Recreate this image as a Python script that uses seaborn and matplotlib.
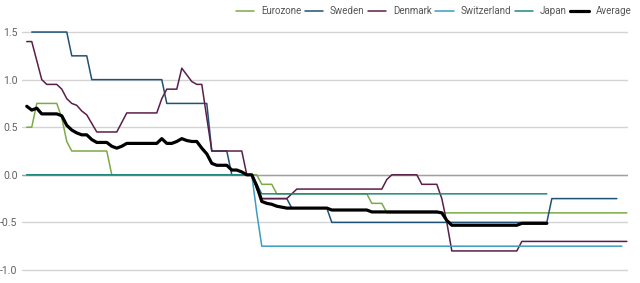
import numpy as np
import pandas as pd
import matplotlib
matplotlib.use('Agg')
import matplotlib.pyplot as plt
import seaborn as sns

# monthly index, 121 points
months = list(range(121))
nan = np.nan

eurozone = ([0.5] * 2 + [0.75] * 5 + [0.6, 0.35] + [0.25] * 8 + [0.0] * 30
            + [-0.1] * 3 + [-0.2] * 19 + [-0.3] * 3 + [-0.4] * 49)

sweden = ([nan] + [1.5] * 8 + [1.25] * 4 + [1.0] * 15 + [0.75] * 9 + [0.25] * 4
          + [0.0] * 5 + [-0.1] + [-0.25] * 6 + [-0.35] * 8 + [-0.5] * 44
          + [-0.25] * 14 + [nan] * 2)

denmark = ([1.4] * 2 + [1.2, 1.0] + [0.95] * 3 + [0.9, 0.8, 0.75, 0.73, 0.67, 0.63, 0.54]
           + [0.45] * 5 + [0.55] + [0.65] * 7 + [0.8] + [0.9] * 3 + [1.12, 1.05, 0.98]
           + [0.95] * 2 + [0.6] + [0.25] * 7 + [0.0] * 2 + [-0.15] + [-0.25] * 6
           + [-0.2] + [-0.15] * 18 + [-0.05] + [0.0] * 6 + [-0.1] * 4 + [-0.25, -0.5]
           + [-0.8] * 14 + [-0.7] * 22)

switzerland = [0.0] * 46 + [-0.4] + [-0.75] * 73 + [nan]

japan = [0.0] * 46 + [-0.1] + [-0.2] * 58 + [nan] * 16

average = ([0.72, 0.68, 0.70, 0.64, 0.64, 0.64, 0.64, 0.62, 0.52, 0.47, 0.44, 0.42,
            0.42, 0.37, 0.34, 0.34, 0.34, 0.30, 0.28, 0.30, 0.33] + [0.33] * 6
           + [0.38, 0.33, 0.33, 0.35, 0.38, 0.36, 0.35, 0.35, 0.28, 0.22, 0.12, 0.10,
              0.10, 0.10, 0.05, 0.05, 0.03, 0.0, 0.0, -0.12, -0.28, -0.30, -0.31,
              -0.33, -0.34]
           + [-0.35] * 9 + [-0.37] * 8 + [-0.39] * 14 + [-0.40, -0.48]
           + [-0.53] * 14 + [-0.51] * 6 + [nan] * 16)

series = {
    'Eurozone': eurozone,
    'Sweden': sweden,
    'Denmark': denmark,
    'Switzerland': switzerland,
    'Japan': japan,
    'Average': average,
}
colors = {
    'Eurozone': '#7bab45',
    'Sweden': '#1f5275',
    'Denmark': '#5a1e4a',
    'Switzerland': '#3a9ec0',
    'Japan': '#1e8a82',
    'Average': '#000000',
}

sns.set_style('white')
plt.rcParams['font.family'] = ['Roboto', 'DejaVu Sans']

fig = plt.figure(figsize=(6.4, 2.83), dpi=100)
ax = fig.add_axes([0.034, 0.0124, 0.947, 0.908])

for name, vals in series.items():
    df = pd.DataFrame({'month': months, 'value': vals}).dropna()
    lw = 2.3 if name == 'Average' else 1.1
    sns.lineplot(data=df, x='month', y='value', ax=ax, color=colors[name],
                 linewidth=lw, label=name, zorder=3 if name == 'Average' else 2)

ax.set_xlim(-1, 120.2)
ax.set_ylim(-1.1, 1.6)
ax.set_yticks([-1.0, -0.5, 0.0, 0.5, 1.0, 1.5])
ax.set_yticklabels(['-1.0', '-0.5', '0.0', '0.5', '1.0', '1.5'])
ax.set_xticks([])
ax.set_xlabel('')
ax.set_ylabel('')
ax.tick_params(axis='y', length=0, pad=3, labelsize=7.5, labelcolor='#606060')
ax.grid(axis='y', color='#d3d3d3', linewidth=1.0)
ax.grid(axis='x', visible=False)
ax.axhline(0, color='#a0a0a0', linewidth=1.0, zorder=1)
for s in ax.spines.values():
    s.set_visible(False)

handles, labels = ax.get_legend_handles_labels()
ax.legend_.remove()
fig.legend(handles, labels, ncol=6, loc='upper right', bbox_to_anchor=(1.0, 1.01),
           frameon=False, fontsize=7.0, labelcolor='#555555', handlelength=1.9,
           handletextpad=0.7, columnspacing=0.35)

fig.savefig('out.png', dpi=100)
